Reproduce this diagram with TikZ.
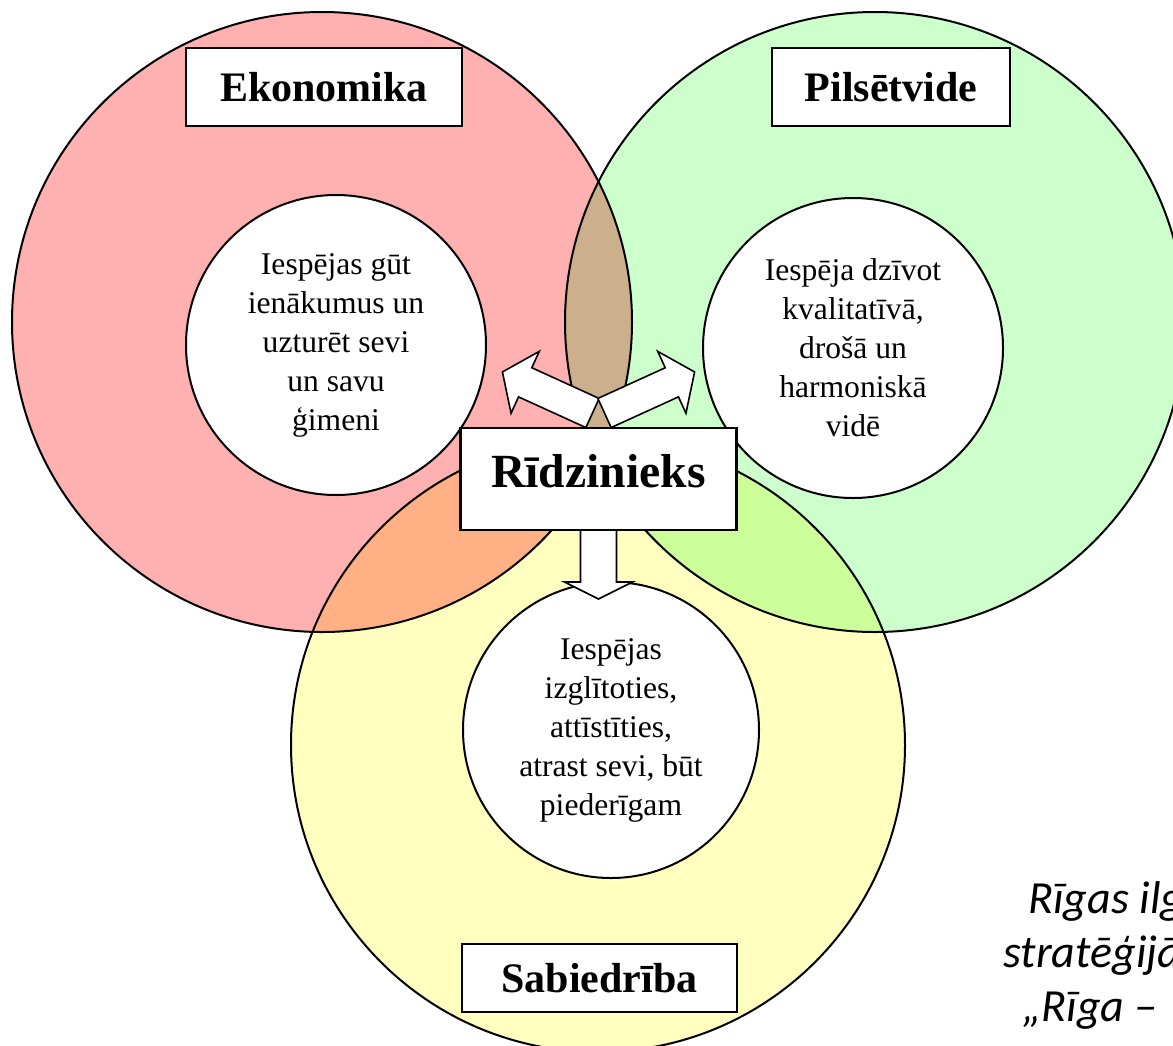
\documentclass[tikz,border=0pt]{standalone}
\usepackage{fontspec}
\setmainfont{Liberation Serif}
\newfontfamily\capfont{Carlito}
\usetikzlibrary{positioning, calc}
\definecolor{ekored}{RGB}{255,176,176}
\definecolor{vidgreen}{RGB}{204,255,204}
\definecolor{sabyellow}{RGB}{255,255,192}

\tikzset{
  pics/blockarrow/.style n args={3}{code={
    \draw[arrowbody] (0,-#2) -- ({#1-#3},-#2) -- ({#1-#3},-34) -- (#1,0)
      -- ({#1-#3},34) -- ({#1-#3},#2) -- (0,#2) -- cycle;
  }}
}

\begin{document}
\begin{tikzpicture}[
    x=0.5pt, y=-0.5pt,
    % lielie apli
    bigring/.style={
        circle, draw=black, line width=1pt,
        minimum size=310pt, inner sep=0pt
    },
    % iekšējie balti apli ar tekstu
    innerring/.style={
        circle, draw=black, line width=1pt, fill=white,
        minimum size=150pt, inner sep=0pt, align=center,
        font=\fontsize{15.8}{19.5}\selectfont
    },
    % virsrakstu rāmji
    titlebox/.style={
        draw=black, line width=1.3pt, fill=white,
        font=\bfseries\fontsize{21}{25}\selectfont,
        minimum height=39pt, inner sep=0pt
    },
    arrowbody/.style={
        draw=black, line width=0.8pt, fill=white, line join=miter
    },
    captext/.style={
        anchor=base west, inner sep=0pt,
        font=\capfont\itshape\fontsize{23}{27}\selectfont
    }
]
    \useasboundingbox (0,0) rectangle (1173,1045);

    % 1. Lielie apli (krāsas sajaucas)
    \begin{scope}[blend mode=multiply]
        \node[bigring, fill=ekored] (eko) at (322,322) {};
        \node[bigring, fill=vidgreen] (vid) at (875,322) {};
        \node[bigring, fill=sabyellow, minimum size=307pt] (sab) at (598,745) {};
    \end{scope}

    % 2. Iekšējie apli
    \node[innerring] (ekoin) at (336,345)
        {Iespējas gūt\\ienākumus un\\uzturēt sevi\\un savu\\ģimeni};
    \node[innerring] (vidin) at (853,348)
        {Iespēja dzīvot\\kvalitatīvā,\\drošā un\\harmoniskā\\vidē};
    \node[innerring, minimum size=148pt] (sabin) at (611,730)
        {Iespējas\\izglītoties,\\attīstīties,\\atrast sevi, būt\\piederīgam};

    % 3. Bultas no rīdzinieka
    \coordinate (rid top) at (598.5,428);
    \coordinate (rid bot) at (598.5,530);
    \pic[rotate=155.5] at ($(rid top)+(-6,-15)$) {blockarrow={99}{16}{25}};
    \pic[rotate=24.5] at ($(rid top)+(6,-15)$) {blockarrow={99}{16}{25}};
    \pic[rotate=-90] at (rid bot) {blockarrow={69}{18}{17}};

    % 4. Rāmji
    \node[titlebox, minimum width=138pt, minimum height=51pt, text depth=8pt,
          font=\bfseries\fontsize{23.8}{28}\selectfont] (rid) at (598.5,479) {Rīdzinieks};
    \node[titlebox, minimum width=138pt] (ekotitle) at (324,87) {Ekonomika};
    \node[titlebox, minimum width=119pt] (vidtitle) at (891,87) {Pilsētvide};
    \node[titlebox, minimum width=137.5pt, minimum height=34pt] (sabtitle) at (599.5,978) {Sabiedrība};

    % 5. Paraksts (nogriezts pie malas)
    \node[captext] (cap1) at (1028,913) {Rīgas ilg};
    \node[captext] (cap2) at (1003,967) {stratēģijā};
    \node[captext] (cap3) at (1022,1021) {„Rīga –};
\end{tikzpicture}
\end{document}
